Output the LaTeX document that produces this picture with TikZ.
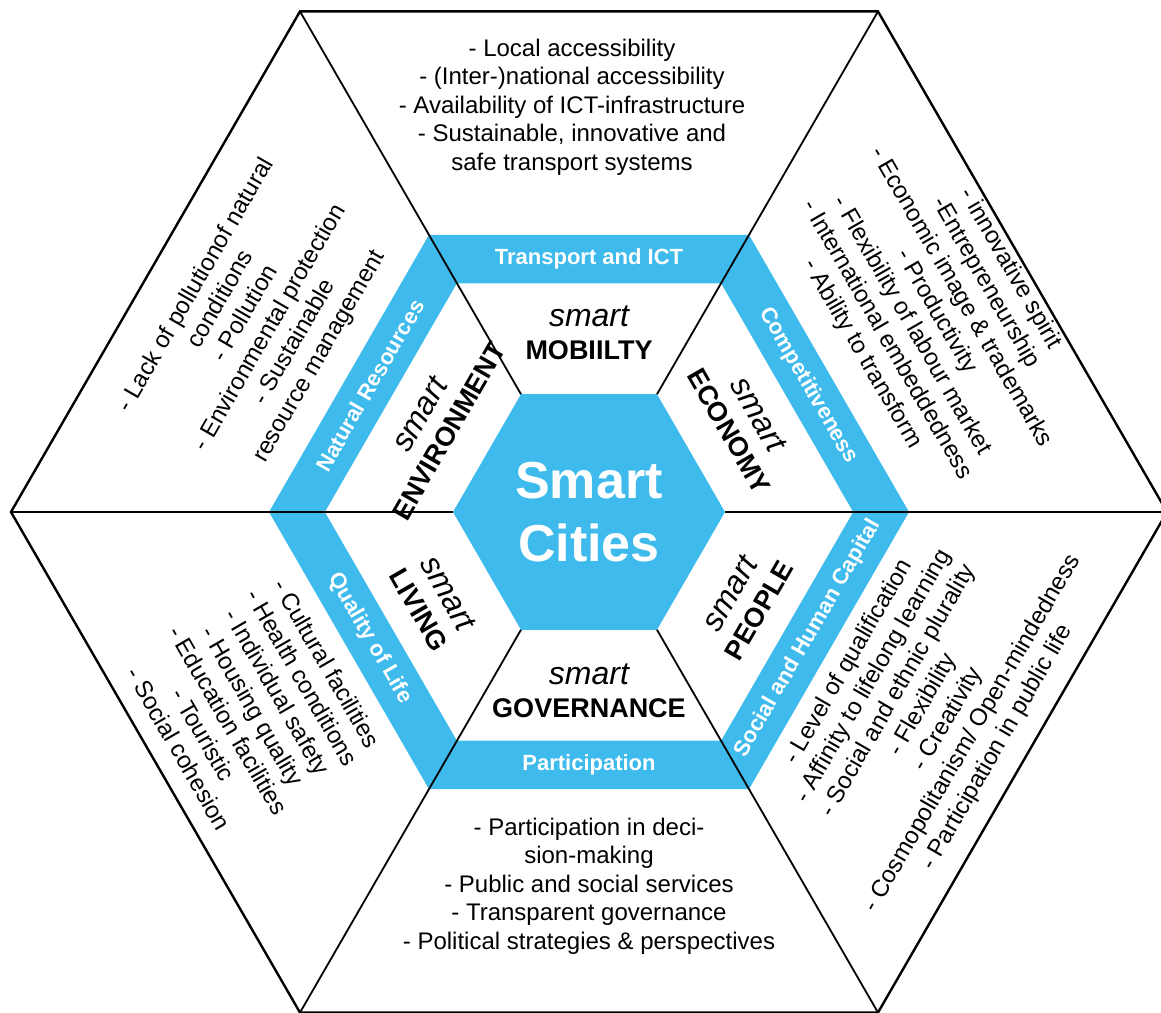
\documentclass[tikz,border=0pt]{standalone}
\usepackage{fontspec}
\setmainfont{Liberation Sans}
\usetikzlibrary{positioning}

\definecolor{cityblue}{RGB}{62,186,236}

\tikzset{
	listtext/.style={align=center, font=\fontsize{24}{28.5}\selectfont},
	sectorname/.style={align=center, font=\fontsize{27}{33}\selectfont\bfseries},
	bandlabel/.style={text=white, font=\fontsize{22}{26}\selectfont\bfseries},
	frameline/.style={line width=2.4pt, line join=miter},
	spokeline/.style={line width=1.8pt}
}
\newcommand{\smartword}{{\fontsize{32}{34}\selectfont\mdseries\itshape smart}}

\begin{document}
\begin{tikzpicture}[x=1pt, y=1pt]
	\useasboundingbox (-589,-500) rectangle (572,512);
	% corners of the hexagons
	\foreach \a in {0,60,...,300} {
		\coordinate (outer\a) at (\a:578);
		\coordinate (bandout\a) at (\a:320);
		\coordinate (bandin\a) at (\a:264);
		\coordinate (core\a) at (\a:136);
	}
	\fill[cityblue] (bandout0) -- (bandout60) -- (bandout120) -- (bandout180) -- (bandout240) -- (bandout300) -- cycle;
	\fill[white] (bandin0) -- (bandin60) -- (bandin120) -- (bandin180) -- (bandin240) -- (bandin300) -- cycle;
	\fill[cityblue] (core0) -- (core60) -- (core120) -- (core180) -- (core240) -- (core300) -- cycle;
	\draw[frameline] (outer0) -- (outer60) -- (outer120) -- (outer180) -- (outer240) -- (outer300) -- cycle;
	\foreach \a in {0,60,...,300}
		\draw[spokeline] (outer\a) -- (core\a);

	\node (cities) at (0,0) [text=white, align=center, font=\fontsize{52}{63}\selectfont\bfseries] {Smart\\Cities};

	% the six fields
	\node (mobility) at (90:179) [sectorname] {\smartword\\MOBIILTY};
	\node (economy) at (30:179) [sectorname, rotate=-60] {\smartword\\ECONOMY};
	\node (people) at (-30:179) [sectorname, rotate=60] {\smartword\\PEOPLE};
	\node (governance) at (270:179) [sectorname] {\smartword\\GOVERNANCE};
	\node (living) at (210:179) [sectorname, rotate=-60] {\smartword\\LIVING};
	\node (environment) at (150:179) [sectorname, rotate=60] {\smartword\\ENVIRONMENT};

	% labels on the ring
	\node (transport) at (90:253) [bandlabel] {Transport and ICT};
	\node (competition) at (30:253) [bandlabel, rotate=-60] {Competitiveness};
	\node (capital) at (-30:253) [bandlabel, rotate=60] {Social and Human Capital};
	\node (participation) at (270:253) [bandlabel] {Participation};
	\node (quality) at (210:253) [bandlabel, rotate=-60] {Quality of Life};
	\node (resources) at (150:253) [bandlabel, rotate=60] {Natural Resources};

	% factor lists
	\node (mobilitylist) at (-17,405) [listtext] {- Local accessibility\\- (Inter-)national accessibility\\- Availability of ICT-infrastructure\\- Sustainable, innovative and\\safe transport systems};
	\node (economylist) at (30:401) [listtext, rotate=-60] {- innovative spirit\\-Entrepreneurship\\- Economic image \& trademarks\\- Productivity\\- Flexibility of labour market\\- International embeddedness\\- Ability to transform};
	\node (peoplelist) at (-30:386) [listtext, rotate=60] {- Level of qualification\\- Affinity to lifelong learning\\- Social and ethnic plurality\\- Flexibility\\- Creativity\\- Cosmopolitanism/ Open-mindedness\\- Participation in public life};
	\node (governancelist) at (270:374) [listtext] {- Participation in deci-\\sion-making\\- Public and social services\\- Transparent governance\\- Political strategies \& perspectives};
	\node (livinglist) at (210:388) [listtext, rotate=-60] {- Cultural facilities\\- Health conditions\\- Individual safety\\- Housing quality\\- Education facilities\\- Touristic\\- Social cohesion};
	\node (environmentlist) at (150:382) [listtext, rotate=60] {- Lack of pollutionof natural\\conditions\\- Pollution\\- Environmental protection\\- Sustainable\\resource management};
\end{tikzpicture}
\end{document}
